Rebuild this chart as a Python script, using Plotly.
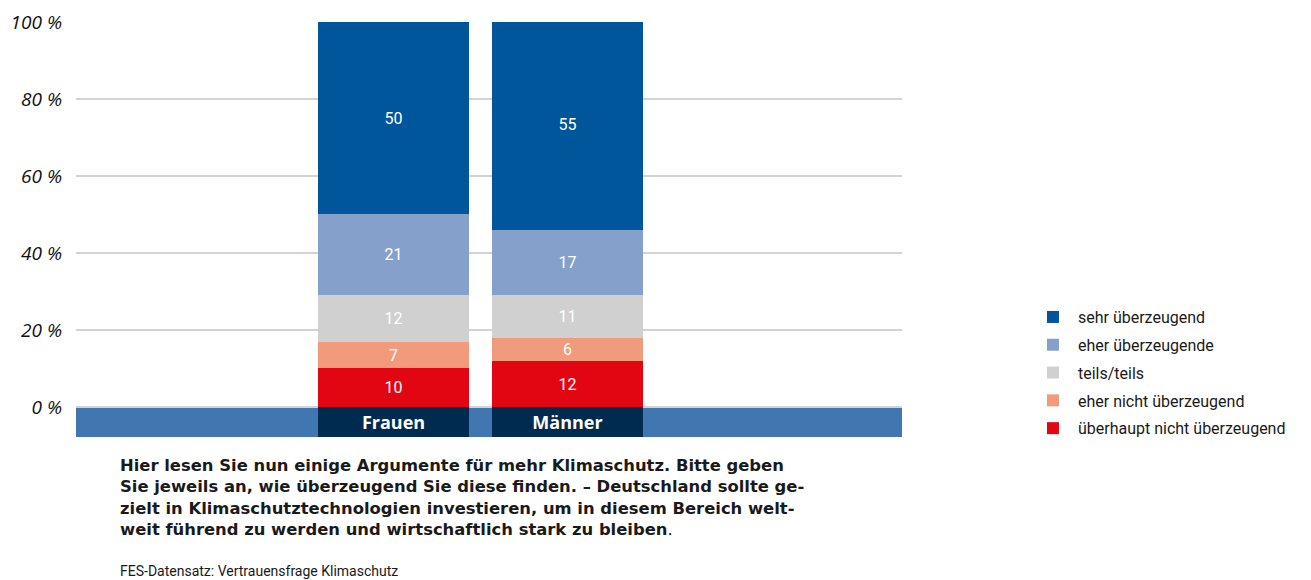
import plotly.graph_objects as go

categories = ["Frauen", "Männer"]
series_names = ["überhaupt nicht überzeugend", "eher nicht überzeugend", "teils/teils",
                "eher überzeugende", "sehr überzeugend"]
ueberhaupt_nicht = [10, 12]
eher_nicht = [7, 6]
teils = [12, 11]
eher = [21, 17]
sehr = [50, 55]
series_values = [ueberhaupt_nicht, eher_nicht, teils, eher, sehr]
colors = ["#e20613", "#f19a7c", "#d0d0d0", "#85a0cb", "#00569a"]
y_ticks = [0, 20, 40, 60, 80, 100]
y_ticklabels = ["0 %", "20 %", "40 %", "60 %", "80 %", "100 %"]

BAND = 7.8
narrow = "Roboto, Arial"

fig = go.Figure()
xpos = list(range(len(categories)))
n = len(series_names)
for i, (name, vals, col) in enumerate(zip(series_names, series_values, colors)):
    fig.add_trace(go.Bar(
        x=xpos, y=vals, name=name, legendgroup=f"g{i}", legendrank=n - i,
        marker=dict(color=col, line=dict(width=0)),
        text=[str(v) for v in vals], textposition="inside", insidetextanchor="middle",
        textangle=0, constraintext="none",
        textfont=dict(color="white", size=16, family=narrow),
        width=0.865,
    ))

# category label boxes
fig.add_trace(go.Bar(
    x=xpos, y=[-BAND] * len(categories), showlegend=False, hoverinfo="skip",
    marker=dict(color="#002b50", line=dict(width=0)), width=0.865,
    text=[f"<b>{c}</b>" for c in categories], textposition="inside",
    insidetextanchor="middle", textangle=0, constraintext="none",
    textfont=dict(color="white", size=18, family="Open Sans"),
))

fig.add_shape(type="rect", xref="paper", yref="y", x0=0, x1=1, y0=-BAND, y1=0,
              fillcolor="#4077b0", line=dict(width=0), layer="between")

fig.update_layout(
    width=1303, height=572,
    margin=dict(l=68, r=409, t=14, b=143, autoexpand=False),
    barmode="relative", bargap=0,
    plot_bgcolor="white", paper_bgcolor="white",
    xaxis=dict(range=[-1.819, 2.914], showticklabels=False, showgrid=False,
               zeroline=False, fixedrange=True, automargin=False),
    yaxis=dict(range=[-BAND, 100], tickvals=y_ticks, ticktext=y_ticklabels,
               showgrid=True, gridcolor="#d3d3d3", gridwidth=2, zeroline=False,
               ticks="", ticklabelstandoff=13, automargin=False,
               tickfont=dict(family="Open Sans", size=19, color="#111111", style="italic")),
    legend=dict(x=1.1525, xanchor="left", y=0.33, yanchor="top",
                traceorder="grouped", tracegroupgap=4,
                font=dict(family=narrow, size=16, color="#1a1a1a"),
                itemwidth=40, bgcolor="rgba(0,0,0,0)"),
    showlegend=True,
)

fig.add_annotation(
    xref="paper", yref="paper", x=0.0508, y=-0.04, xanchor="left", yanchor="top",
    align="left", showarrow=False,
    text=("<b>Hier lesen Sie nun einige Argumente für mehr Klimaschutz. Bitte geben<br>"
          "Sie jeweils an, wie überzeugend Sie diese finden. – Deutschland sollte ge-<br>"
          "zielt in Klimaschutztechnologien investieren, um in diesem Bereich welt-<br>"
          "weit führend zu werden und wirtschaftlich stark zu bleiben</b>."),
    font=dict(family="DejaVu Sans", size=16.4, color="#1a1a1a"),
)
fig.add_annotation(
    xref="paper", yref="paper", x=0.0508, y=-0.323, xanchor="left", yanchor="middle",
    align="left", showarrow=False,
    text="FES-Datensatz: Vertrauensfrage Klimaschutz",
    font=dict(family=narrow, size=14, color="#1a1a1a"),
)

fig.write_html("out.html")
